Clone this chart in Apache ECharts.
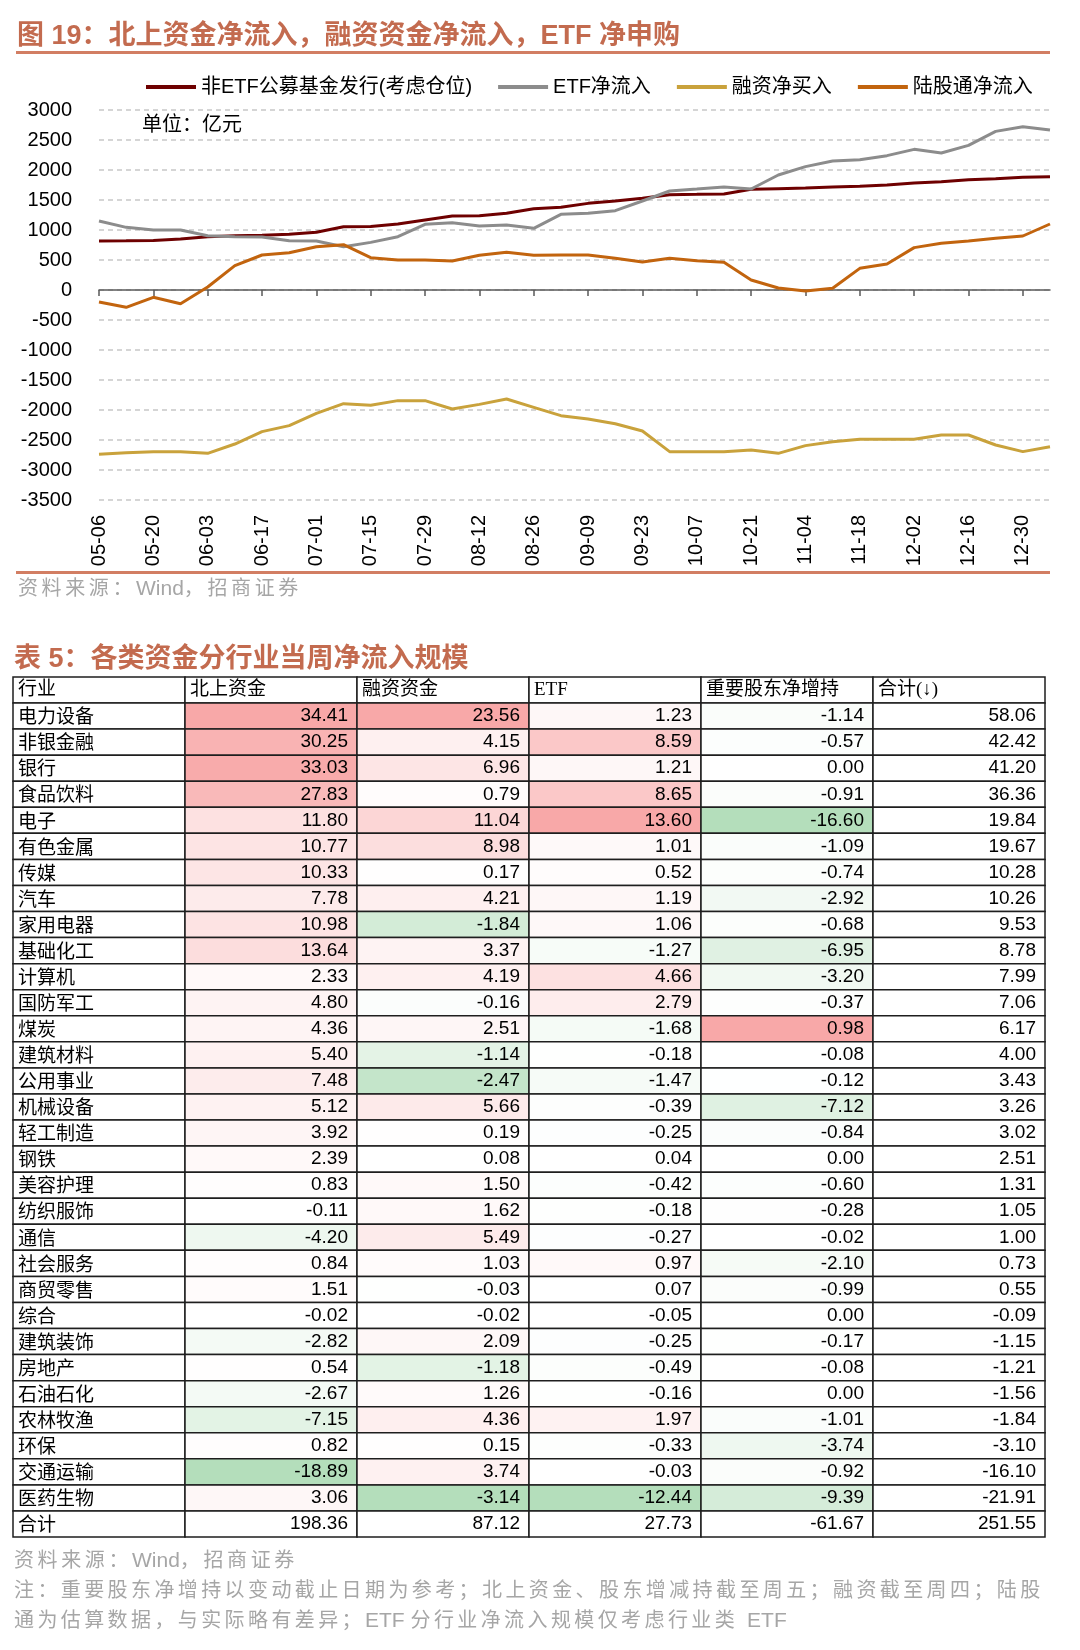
<!DOCTYPE html>
<html><head><meta charset="utf-8">
<script src="https://cdn.jsdelivr.net/npm/echarts@6/dist/echarts.min.js"></script>
<style>
html,body{margin:0;padding:0;background:#fff;}
#wrap{position:relative;width:1080px;height:1650px;overflow:hidden;background:#fff;}
#chart{position:absolute;left:0;top:0;width:1080px;height:1650px;}
.t{position:absolute;white-space:nowrap;font-family:"Liberation Sans","Noto Sans CJK SC",sans-serif;z-index:2;}
.title{font-size:27px;font-weight:bold;color:#C36B4F;line-height:32px;}
.rule{position:absolute;left:16px;width:1034px;height:3px;background:#D27E63;z-index:2;}
.src{font-size:20px;color:#A6A6A6;letter-spacing:3.6px;line-height:24px;}
.note{font-size:20px;color:#A6A6A6;letter-spacing:3.4px;line-height:24px;}
.lat{letter-spacing:0;font-size:21px;}
</style></head>
<body>
<div id="wrap">
<div id="chart"></div>
<div class="t title" style="left:17px;top:19px;">图 19：北上资金净流入，融资资金净流入，ETF 净申购</div>
<div class="rule" style="top:51px;"></div>
<div class="rule" style="top:571px;"></div>
<div class="t src" style="left:18px;top:576px;">资料来源：<span class="lat">Wind</span>，招商证券</div>
<div class="t title" style="left:14px;top:642px;">表 5：各类资金分行业当周净流入规模</div>
<div class="t src" style="left:14px;top:1548px;">资料来源：<span class="lat">Wind</span>，招商证券</div>
<div class="t note" style="left:14px;top:1578px;">注：重要股东净增持以变动截止日期为参考；北上资金、股东增减持截至周五；融资截至周四；陆股</div>
<div class="t note" style="left:14px;top:1608px;">通为估算数据，与实际略有差异；<span class="lat">ETF </span>分行业净流入规模仅考虑行业类 <span class="lat">ETF</span></div>
</div>
<script>
// ---------- line chart data ----------
var dates = ['05-06','05-13','05-20','05-27','06-03','06-10','06-17','06-24','07-01','07-08','07-15','07-22','07-29','08-05','08-12','08-19','08-26','09-02','09-09','09-16','09-23','09-30','10-07','10-14','10-21','10-28','11-04','11-11','11-18','11-25','12-02','12-09','12-16','12-23','12-30','01-06'];
var fundIssue = [817,820,826,850,889,905,911,928,961,1055,1058,1100,1167,1233,1239,1278,1355,1378,1444,1483,1528,1589,1594,1600,1678,1689,1700,1717,1728,1750,1783,1806,1839,1856,1878,1889];
var etfFlow = [1150,1044,1000,1000,905,889,883,822,817,722,794,889,1094,1122,1067,1083,1028,1261,1278,1322,1483,1650,1683,1717,1683,1917,2056,2150,2172,2239,2344,2283,2411,2644,2722,2667];
var marginBuy = [-2739,-2711,-2694,-2694,-2722,-2567,-2361,-2261,-2056,-1894,-1922,-1844,-1844,-1983,-1906,-1817,-1956,-2094,-2150,-2228,-2350,-2694,-2694,-2694,-2667,-2722,-2594,-2528,-2489,-2489,-2489,-2417,-2417,-2583,-2694,-2611];
var northbound = [-200,-289,-122,-228,50,406,583,622,722,756,539,500,500,483,578,628,578,583,583,528,467,528,489,461,167,33,-17,28,361,433,706,778,817,861,900,1100];
var seriesNames = ['非ETF公募基金发行(考虑仓位)','ETF净流入','融资净买入','陆股通净流入'];
var seriesColors = ['#6E0000','#8C8C8C','#C9A23C','#C2640E'];

// ---------- table data ----------
var headers = ['行业','北上资金','融资资金','ETF','重要股东净增持','合计(↓)'];
var industries = ['电力设备','非银金融','银行','食品饮料','电子','有色金属','传媒','汽车','家用电器','基础化工','计算机','国防军工','煤炭','建筑材料','公用事业','机械设备','轻工制造','钢铁','美容护理','纺织服饰','通信','社会服务','商贸零售','综合','建筑装饰','房地产','石油石化','农林牧渔','环保','交通运输','医药生物'];
var north = [34.41,30.25,33.03,27.83,11.80,10.77,10.33,7.78,10.98,13.64,2.33,4.80,4.36,5.40,7.48,5.12,3.92,2.39,0.83,-0.11,-4.20,0.84,1.51,-0.02,-2.82,0.54,-2.67,-7.15,0.82,-18.89,3.06];
var margin = [23.56,4.15,6.96,0.79,11.04,8.98,0.17,4.21,-1.84,3.37,4.19,-0.16,2.51,-1.14,-2.47,5.66,0.19,0.08,1.50,1.62,5.49,1.03,-0.03,-0.02,2.09,-1.18,1.26,4.36,0.15,3.74,-3.14];
var etf = [1.23,8.59,1.21,8.65,13.60,1.01,0.52,1.19,1.06,-1.27,4.66,2.79,-1.68,-0.18,-1.47,-0.39,-0.25,0.04,-0.42,-0.18,-0.27,0.97,0.07,-0.05,-0.25,-0.49,-0.16,1.97,-0.33,-0.03,-12.44];
var holder = [-1.14,-0.57,0.00,-0.91,-16.60,-1.09,-0.74,-2.92,-0.68,-6.95,-3.20,-0.37,0.98,-0.08,-0.12,-7.12,-0.84,0.00,-0.60,-0.28,-0.02,-2.10,-0.99,0.00,-0.17,-0.08,0.00,-1.01,-3.74,-0.92,-9.39];
var total = [58.06,42.42,41.20,36.36,19.84,19.67,10.28,10.26,9.53,8.78,7.99,7.06,6.17,4.00,3.43,3.26,3.02,2.51,1.31,1.05,1.00,0.73,0.55,-0.09,-1.15,-1.21,-1.56,-1.84,-3.10,-16.10,-21.91];
var sumLabel = '合计';
var sumRow = [198.36,87.12,27.73,-61.67,251.55];

var RED = [248,168,168], GREEN = [180,222,187];
function mix(t, rgb){
  t = Math.max(0, Math.min(1, t));
  return 'rgb(' + [0,1,2].map(function(i){return Math.round(255 + (rgb[i]-255)*t);}).join(',') + ')';
}
var colored = [north, margin, etf, holder];
var FONT_SANS = "'Liberation Sans','Noto Sans CJK SC',sans-serif";
var FONT_CJK = "'Noto Sans CJK SC','Liberation Sans',sans-serif";
var FONT_HEAD = "'Liberation Serif','Noto Sans CJK SC',serif";

var cells = [], cellData = [];
function addCell(col, row, text, fill, align, font){
  cells.push({text:text, fill:fill, align:align, font:font});
  cellData.push([col, row]);
}
headers.forEach(function(h, c){ addCell(c, 0, h, '#fff', 'left', FONT_HEAD); });
industries.forEach(function(name, r){
  var row = r + 1;
  addCell(0, row, name, '#fff', 'left', FONT_CJK);
  colored.forEach(function(arr, k){
    var v = arr[r];
    var mx = Math.max.apply(null, arr), mn = Math.min.apply(null, arr);
    var fill = v > 0 ? mix(v / mx, RED) : (v < 0 ? mix(v / mn, GREEN) : '#fff');
    addCell(k + 1, row, v.toFixed(2), fill, 'right', FONT_SANS);
  });
  addCell(5, row, total[r].toFixed(2), '#fff', 'right', FONT_SANS);
});
addCell(0, industries.length + 1, sumLabel, '#fff', 'left', FONT_CJK);
sumRow.forEach(function(v, k){ addCell(k + 1, industries.length + 1, v.toFixed(2), '#fff', 'right', FONT_SANS); });

var rowIdx = []; for (var i = 0; i < industries.length + 2; i++) rowIdx.push(i);
var colIdx = headers.map(function(h, i){ return i; });

var chart = echarts.init(document.getElementById('chart'), null, {renderer:'canvas'});
var lineSeries = [fundIssue, etfFlow, marginBuy, northbound].map(function(arr, i){
  return {
    name: seriesNames[i], type:'line', data: arr, xAxisIndex:0, yAxisIndex:0,
    symbol:'none', lineStyle:{width:3, color:seriesColors[i]}, itemStyle:{color:seriesColors[i]}, z: 3 + i
  };
});

var option = {
  animation:false,
  backgroundColor:'#fff',
  legend:{
    data: seriesNames, left:141, top:72, icon:'rect', itemWidth:50, itemHeight:4, itemGap:26,
    textStyle:{fontSize:20, color:'#000', fontFamily:FONT_SANS}
  },
  graphic:[{type:'text', left:142, top:113, style:{text:'单位：亿元', fontSize:20, fill:'#000', fontFamily:FONT_CJK}}],
  grid:[
    {left:99, right:30, top:110, height:390},
    {left:13, top:677, width:1032, height:860}
  ],
  xAxis:[
    {type:'category', gridIndex:0, data:dates, boundaryGap:false, position:'bottom',
     axisLine:{show:false, onZero:false}, axisTick:{show:false},
     axisLabel:{interval:1, rotate:90, fontSize:20, color:'#000', fontFamily:FONT_SANS, margin:15}},
    {type:'category', gridIndex:0, data:dates, boundaryGap:false, position:'bottom',
     axisLine:{show:true, onZero:true, lineStyle:{color:'#5A5A5A', width:1.5}},
     axisTick:{show:true, interval:1, length:6, lineStyle:{color:'#5A5A5A', width:1.5}},
     axisLabel:{show:false}},
    {type:'category', gridIndex:1, data:colIdx, show:false, boundaryGap:true}
  ],
  yAxis:[
    {type:'value', gridIndex:0, min:-3500, max:3000, interval:500,
     axisLine:{show:false}, axisTick:{show:false},
     axisLabel:{fontSize:20, color:'#000', fontFamily:FONT_SANS, margin:27, formatter:function(v){ return String(v); }},
     splitLine:{show:true, lineStyle:{color:'#C8C8C8', width:1.5, type:[5,4]}}},
    {type:'category', gridIndex:1, data:rowIdx, inverse:true, show:false, boundaryGap:true}
  ],
  series: lineSeries.concat([{
    type:'custom', xAxisIndex:2, yAxisIndex:1, data:cellData, z:10,
    renderItem:function(params, api){
      var cell = cells[params.dataIndex];
      var c = api.coord([api.value(0), api.value(1)]);
      var s = api.size([1, 1]);
      var x = c[0] - s[0] / 2, y = c[1] - s[1] / 2;
      var tx = cell.align === 'right' ? x + s[0] - 9 : x + 5;
      return {type:'group', children:[
        {type:'rect', shape:{x:x, y:y, width:s[0], height:s[1]}, style:{fill:cell.fill, stroke:'#1E1E1E', lineWidth:1.5}},
        {type:'text', style:{text:cell.text, x:tx, y:c[1], align:cell.align, verticalAlign:'middle', fontSize:19, fontFamily:cell.font, fill:'#000'}}
      ]};
    }
  }])
};
chart.setOption(option);
</script>
</body></html>
